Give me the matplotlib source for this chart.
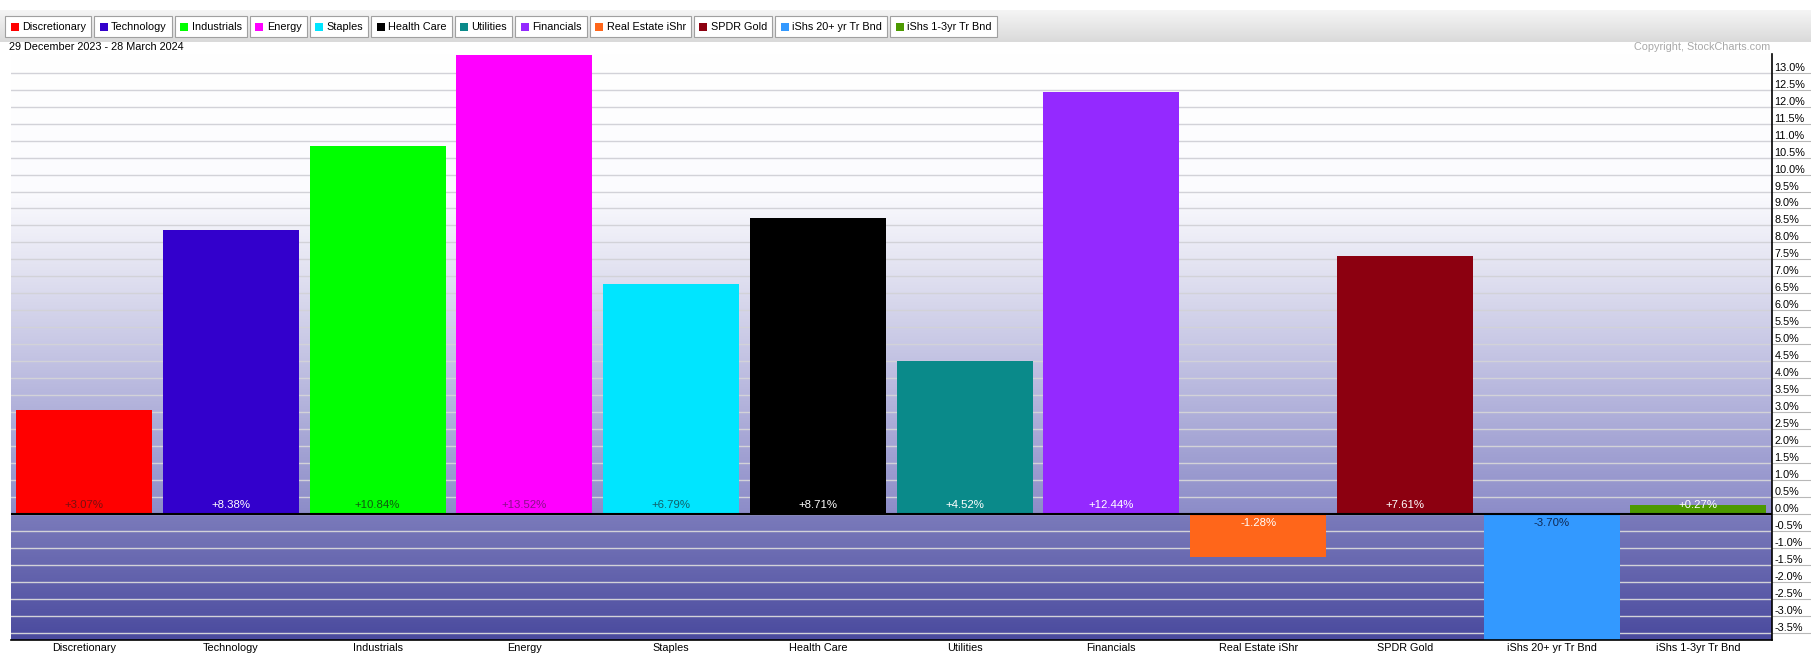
import matplotlib.pyplot as plt
import numpy as np
from matplotlib.colors import to_rgb
from matplotlib.patches import Rectangle

plt.rcParams['font.family'] = ['Liberation Sans', 'DejaVu Sans']

# data
categories = ['Discretionary', 'Technology', 'Industrials', 'Energy', 'Staples',
              'Health Care', 'Utilities', 'Financials', 'Real Estate iShr',
              'SPDR Gold', 'iShs 20+ yr Tr Bnd', 'iShs 1-3yr Tr Bnd']
changes = [3.07, 8.38, 10.84, 13.52, 6.79, 8.71, 4.52, 12.44, -1.28, 7.61, -3.70, 0.27]
bar_colors = ['#ff0000', '#3300cc', '#00ff00', '#ff00ff', '#00e5ff', '#000000',
              '#0a8a8a', '#9429ff', '#ff661a', '#8c0010', '#3399ff', '#4c9900']
label_colors = ['#7a1010', '#ffffff', '#105a10', '#8a108a', '#10606a', '#ffffff',
                '#ffffff', '#ffffff', '#ffffff', '#ffffff', '#102a55', '#ffffff']
y_ticks = np.arange(-3.5, 13.01, 0.5)
period = '29 December 2023 - 28 March 2024'
copyright_text = 'Copyright, StockCharts.com'

W, H = 1811, 669
FS = 7.8

fig = plt.figure(figsize=(W / 100, H / 100), dpi=100)
fig.patch.set_facecolor('white')

# main plot area (pixel box -> figure fraction)
left, right, top, bottom = 10.7, 1771.7, 54, 640
ax = fig.add_axes([left / W, 1 - bottom / H, (right - left) / W, (bottom - top) / H])

ymin, ymax = -3.71, 13.55
x = np.arange(len(categories))

# vertical gradient background
stop_y = [ymin, -0.001, 0.001, 4.0, 7.0, 9.5, ymax]
stop_c = ['#4a4a9e', '#7b7bbb', '#8c8cc8', '#bcbce0', '#e0e0f0', '#fbfbfe', '#ffffff']
rows = np.linspace(ymin, ymax, 600)
rgb = np.array([to_rgb(c) for c in stop_c])
grad = np.stack([np.interp(rows, stop_y, rgb[:, k]) for k in range(3)], axis=-1)
ax.imshow(grad[:, None, :], extent=(-0.5, len(categories) - 0.5, ymin, ymax),
          origin='lower', aspect='auto', zorder=0, interpolation='bilinear')

ax.grid(axis='y', color='#d2d2d8', lw=1, zorder=0.5)
ax.set_axisbelow(True)

bars = ax.bar(x, changes, width=0.927, color=bar_colors, zorder=2)
ax.axhline(0, color='black', lw=1.5, zorder=4)

for xi, v, lc in zip(x, changes, label_colors):
    off = 6.5 if v >= 0 else -6.5
    ax.annotate('{:+.2f}%'.format(v), xy=(xi, 0), xytext=(0, off),
                textcoords='offset points', ha='center', va='center',
                fontsize=8.2, color=lc, zorder=5)

ax.set_xlim(-0.5, len(categories) - 0.5)
ax.set_ylim(ymin, ymax)

ax.set_xticks(x)
ax.set_xticklabels(categories, fontsize=FS)
ax.tick_params(axis='x', length=0, pad=2.5)

ax.yaxis.tick_right()
ax.set_yticks(y_ticks)
ax.set_yticklabels(['{:.1f}%'.format(v) for v in y_ticks], fontsize=FS, va='bottom')
ax.tick_params(axis='y', length=28, width=0.8, color='#b8b8b8', pad=-26)
for t, v in zip(ax.yaxis.get_major_ticks(), y_ticks):
    if abs(v) < 1e-9:
        t.tick2line.set_color('black')
        t.tick2line.set_linewidth(1.2)

for s in ['left', 'top']:
    ax.spines[s].set_visible(False)
ax.spines['right'].set_color('black')
ax.spines['bottom'].set_color('black')
ax.spines['right'].set_linewidth(1.2)
ax.spines['bottom'].set_linewidth(1.2)

# header texts
fig.text(9 / W, 1 - 47 / H, period, fontsize=FS, ha='left', va='center')
fig.text(1770 / W, 1 - 47 / H, copyright_text, fontsize=FS, ha='right', va='center',
         color='#a8a8a8')

# legend strip with buttons
band_top, band_bot = 10, 42
lax = fig.add_axes([0, 1 - band_bot / H, 1, (band_bot - band_top) / H])
lax.set_xlim(0, W)
lax.set_ylim(band_bot, band_top)
lax.axis('off')
band = np.linspace(0, 1, 50)
band_rgb = np.outer(1 - band, to_rgb('#f5f5f5')) + np.outer(band, to_rgb('#dadada'))
lax.imshow(band_rgb[:, None, :], extent=(0, W, band_bot, band_top), origin='upper',
           aspect='auto', zorder=0)

renderer = fig.canvas.get_renderer()
bx = 5.0
btn_top, btn_bot = 16, 37
for name, c in zip(categories, bar_colors):
    t = lax.text(bx + 17, (btn_top + btn_bot) / 2, name, fontsize=FS,
                 ha='left', va='center', zorder=3)
    tw = t.get_window_extent(renderer).width
    bw = tw + 22
    lax.add_patch(Rectangle((bx, btn_top), bw, btn_bot - btn_top, facecolor='white',
                            edgecolor='#a0a0a0', lw=0.8, zorder=1))
    lax.add_patch(Rectangle((bx + 5.5, (btn_top + btn_bot) / 2 - 4), 8, 8,
                            facecolor=c, edgecolor='none', zorder=2))
    bx += bw + 3

plt.savefig('out.png', dpi=100)
